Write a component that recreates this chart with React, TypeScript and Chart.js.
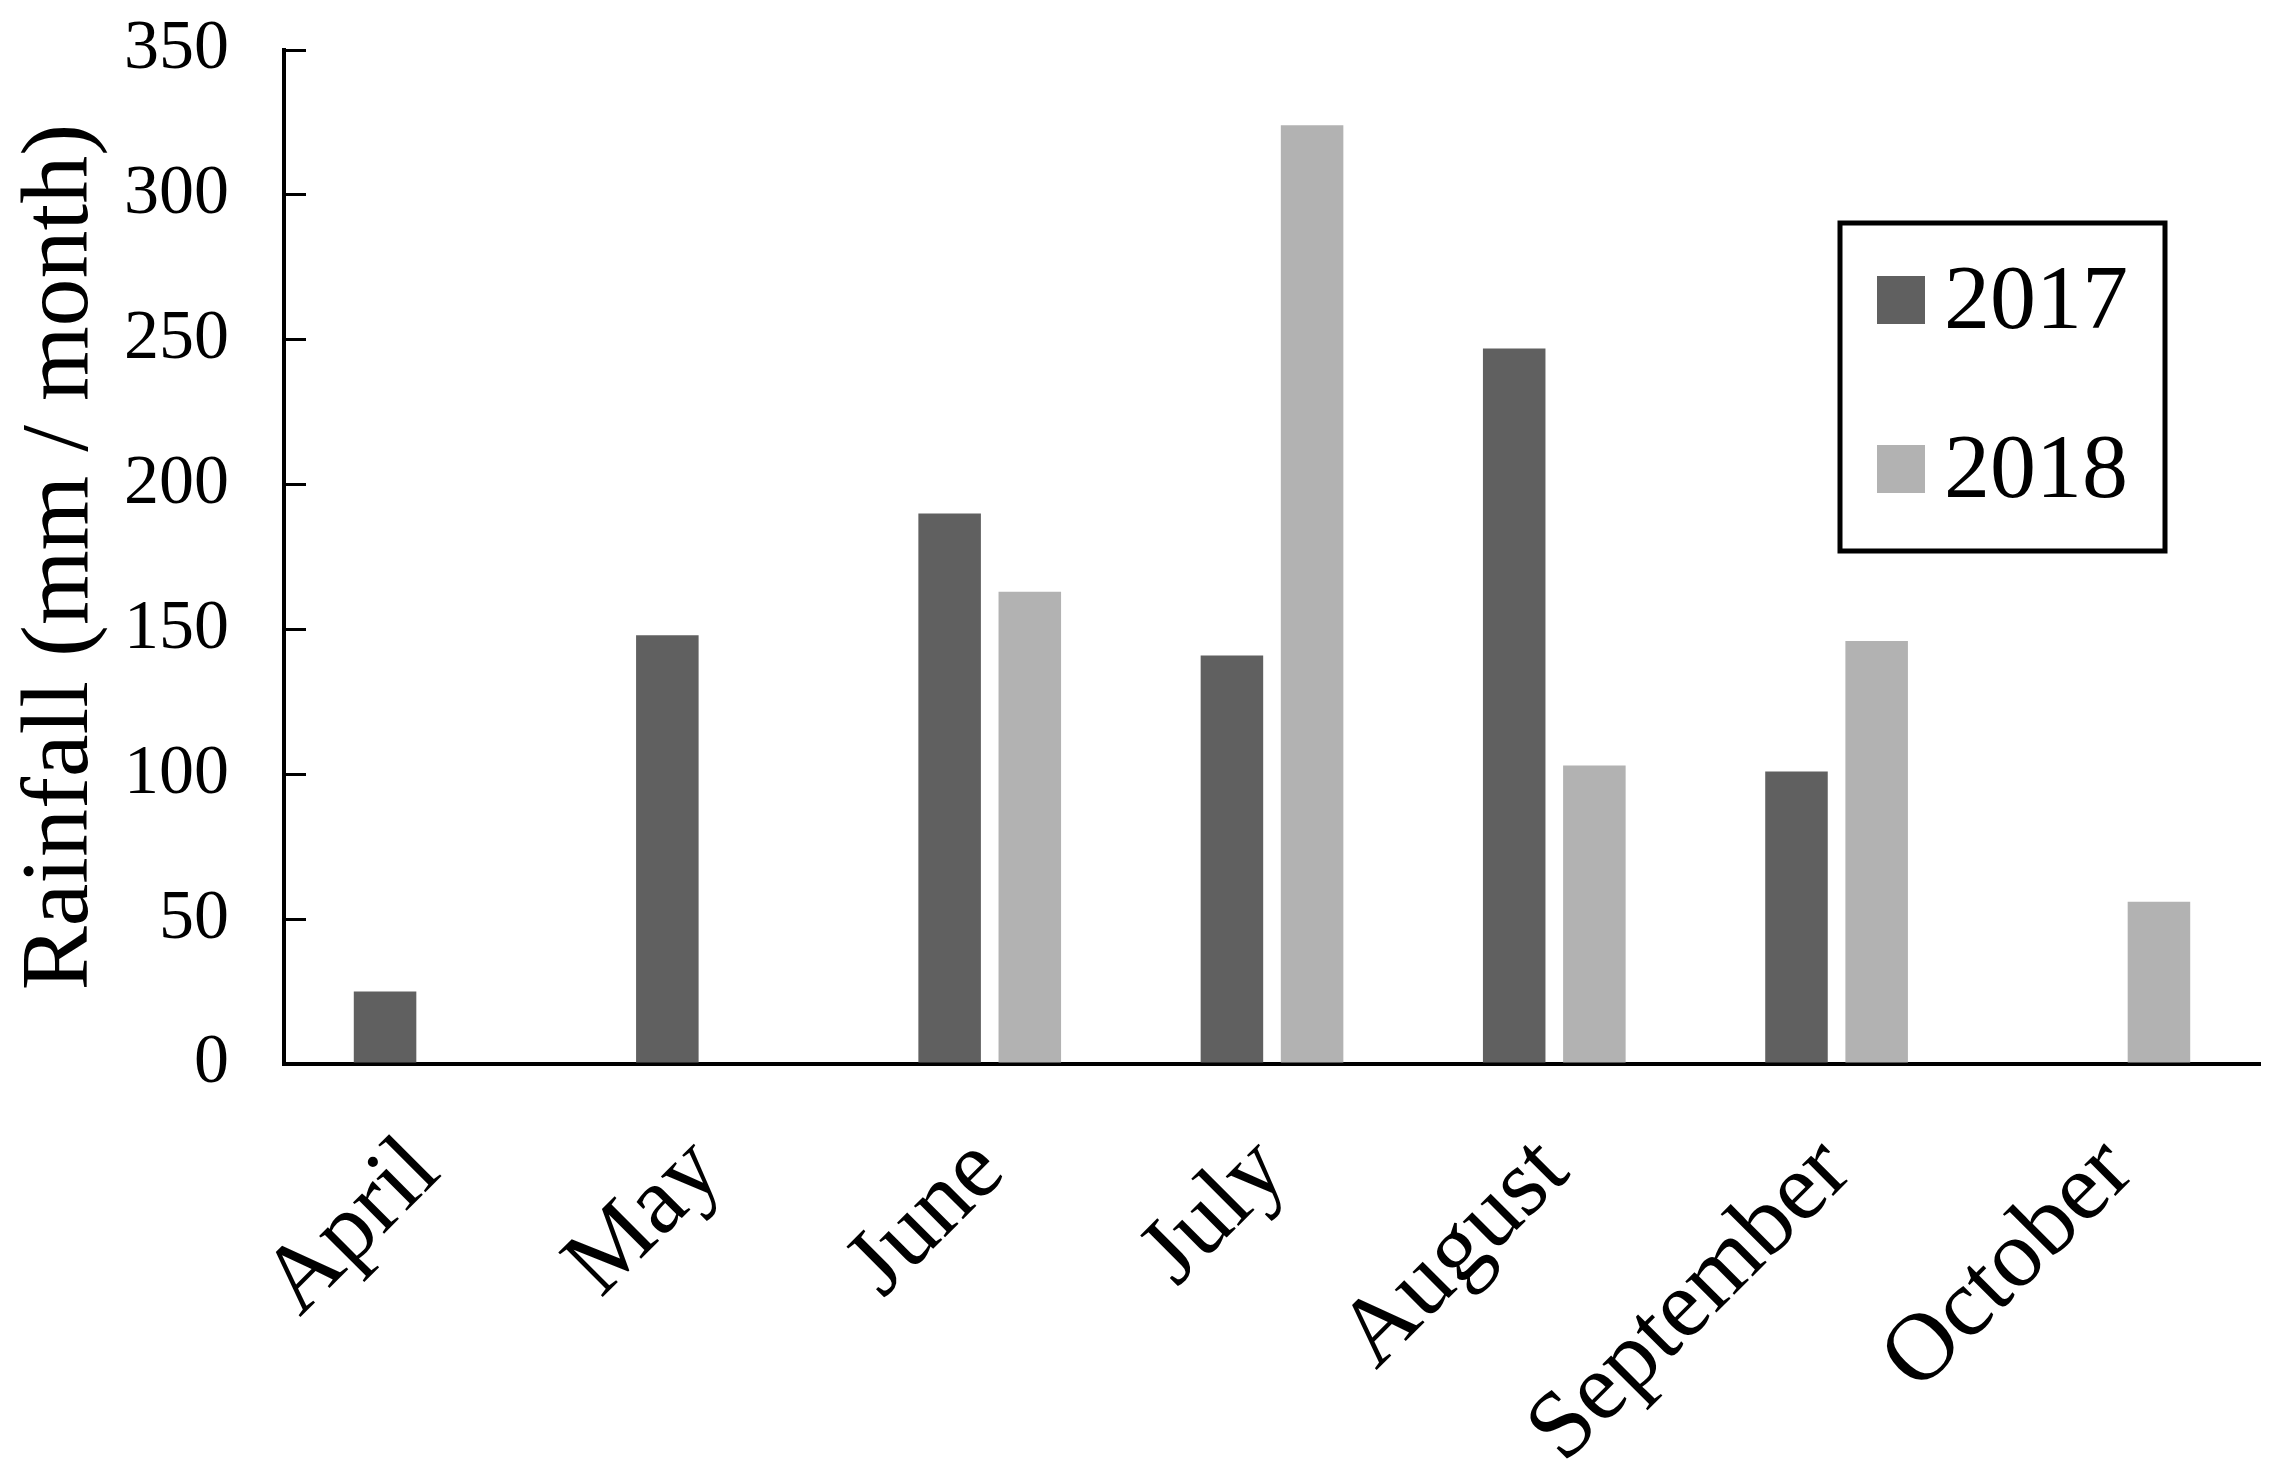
import React, { useEffect, useRef } from "react";
import { Chart, registerables } from "chart.js";

Chart.register(...registerables);

const months = ["April", "May", "June", "July", "August", "September", "October"];
const rain2017 = [25, 148, 190, 141, 247, 101, null];
const rain2018 = [null, null, 163, 324, 103, 146, 56];
const seriesLabels = ["2017", "2018"];
const seriesColors = ["#606060", "#b2b2b2"];
const yTicks = [0, 50, 100, 150, 200, 250, 300, 350];

const FONT = "'Liberation Serif', 'Times New Roman', serif";

const legendBox = {
  id: "legendBox",
  afterDraw(chart: any) {
    const ctx = chart.ctx;
    ctx.save();
    const left = 1840, top = 223, w = 325, h = 328;
    ctx.lineWidth = 5;
    ctx.strokeStyle = "#000";
    ctx.strokeRect(left, top, w, h);
    const rows = [300, 469];
    chart.data.datasets.forEach((ds: any, i: number) => {
      const cy = rows[i];
      ctx.fillStyle = ds.backgroundColor;
      ctx.fillRect(1877, cy - 24, 48, 48);
      ctx.fillStyle = "#000";
      ctx.font = `92px ${FONT}`;
      ctx.textBaseline = "middle";
      ctx.textAlign = "left";
      ctx.fillText(ds.label, 1944, cy + 4);
    });
    ctx.restore();
  },
};

export default function App() {
  const ref = useRef<HTMLCanvasElement | null>(null);
  useEffect(() => {
    if (!ref.current) return;
    const chart = new Chart(ref.current, {
      type: "bar",
      data: {
        labels: months,
        datasets: [
          { label: seriesLabels[0], data: rain2017, backgroundColor: seriesColors[0] },
          { label: seriesLabels[1], data: rain2018, backgroundColor: seriesColors[1] },
        ],
      },
      options: {
        animation: false,
        responsive: false,
        maintainAspectRatio: false,
        layout: { padding: { top: 50, left: 14, right: 26, bottom: 0 } },
        datasets: { bar: { categoryPercentage: 0.568, barPercentage: 0.78 } },
        plugins: { legend: { display: false }, tooltip: { enabled: false } },
        scales: {
          x: {
            grid: { display: true, drawOnChartArea: false, drawTicks: false, color: "#000" },
            border: { display: true, color: "#000", width: 4 },
            ticks: {
              color: "#000",
              font: { family: FONT, size: 96 },
              maxRotation: 45,
              minRotation: 45,
              padding: 52,
              autoSkip: false,
            },
            afterFit(scale: any) {
              scale.height = 418;
              scale.paddingLeft = 0;
              scale.paddingRight = 0;
            },
          },
          y: {
            min: 0,
            max: 350,
            afterBuildTicks(scale: any) {
              scale.ticks = yTicks.map((v) => ({ value: v }));
            },
            grid: { display: true, drawOnChartArea: false, drawTicks: true, tickLength: -22, color: "#000", lineWidth: 3 },
            border: { display: true, color: "#000", width: 4 },
            ticks: {
              color: "#000",
              font: { family: FONT, size: 70 },
              padding: 77,
            },
            title: {
              display: true,
              text: "Rainfall (mm / month)",
              color: "#000",
              font: { family: FONT, size: 96, lineHeight: 1 },
              padding: 0,
            },
            afterFit(scale: any) {
              scale.width = 270;
              scale.paddingTop = 0;
              scale.paddingBottom = 0;
            },
          },
        },
      },
      plugins: [legendBox],
    });
    return () => chart.destroy();
  }, []);
  return (
    <div style={{ position: "fixed", left: 0, top: 0, width: 2286, height: 1482, background: "#fff" }}>
      <canvas ref={ref} width={2286} height={1482} style={{ width: 2286, height: 1482 }} />
    </div>
  );
}
